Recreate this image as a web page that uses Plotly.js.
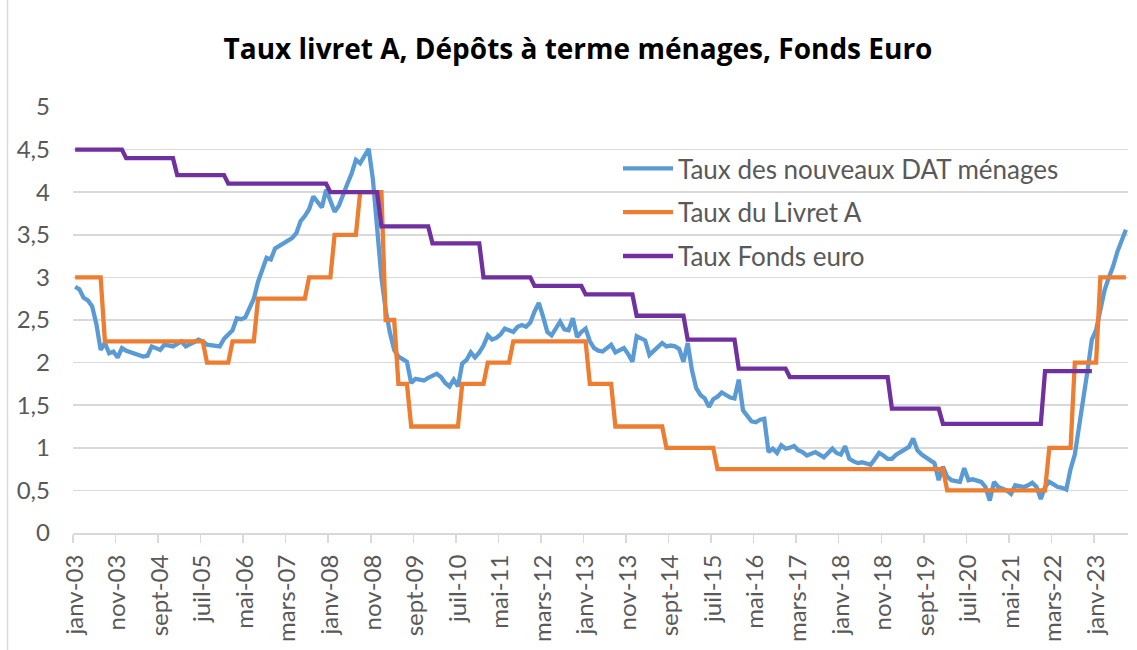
<!DOCTYPE html>
<html>
<head>
<meta charset="utf-8">
<script src="https://cdn.plot.ly/plotly-3.0.1.min.js"></script>
<style>
html,body{margin:0;padding:0;background:#fff;}
#chart{width:1137px;height:650px;}
</style>
</head>
<body>
<div id="chart"></div>
<script>
// Monthly series, janv-2003 .. août-2023 (248 months)
const tickLabels = ['janv-03','nov-03','sept-04','juil-05','mai-06','mars-07','janv-08','nov-08','sept-09','juil-10','mai-11','mars-12','janv-13','nov-13','sept-14','juil-15','mai-16','mars-17','janv-18','nov-18','sept-19','juil-20','mai-21','mars-22','janv-23'];

const tauxDAT = [
  2.89,2.86,2.76,2.73,2.66,2.45,2.15,2.23,2.11,2.13,2.06,2.17,
  2.14,2.12,2.10,2.08,2.07,2.08,2.19,2.17,2.15,2.21,2.20,2.19,
  2.22,2.25,2.19,2.21,2.24,2.27,2.25,2.21,2.20,2.19,2.19,2.28,
  2.33,2.38,2.52,2.51,2.53,2.64,2.75,2.95,3.10,3.23,3.21,3.34,
  3.37,3.40,3.43,3.46,3.52,3.66,3.72,3.80,3.95,3.88,3.82,4.03,
  3.88,3.77,3.84,3.98,4.10,4.22,4.38,4.34,4.43,4.51,4.15,3.60,
  3.00,2.62,2.35,2.15,2.07,2.04,2.01,1.76,1.81,1.80,1.79,1.82,
  1.85,1.87,1.83,1.76,1.72,1.80,1.72,1.99,2.03,2.12,2.06,2.12,
  2.20,2.32,2.27,2.29,2.33,2.40,2.38,2.36,2.42,2.44,2.42,2.47,
  2.60,2.70,2.54,2.36,2.32,2.40,2.48,2.39,2.38,2.52,2.30,2.36,
  2.40,2.25,2.17,2.14,2.13,2.17,2.21,2.12,2.15,2.17,2.10,2.01,
  2.31,2.28,2.26,2.09,2.14,2.18,2.23,2.19,2.20,2.19,2.16,2.01,
  2.23,1.91,1.70,1.62,1.58,1.48,1.57,1.60,1.65,1.62,1.59,1.58,
  1.80,1.44,1.38,1.31,1.30,1.33,1.34,0.95,0.99,0.94,1.03,0.99,
  1.00,1.02,0.97,0.95,0.91,0.93,0.95,0.92,0.89,0.94,0.99,0.94,
  0.92,1.02,0.87,0.84,0.82,0.83,0.81,0.80,0.87,0.94,0.91,0.87,
  0.87,0.92,0.95,0.98,1.01,1.11,0.97,0.92,0.89,0.85,0.82,0.62,
  0.78,0.66,0.62,0.61,0.60,0.76,0.62,0.63,0.62,0.60,0.54,0.38,
  0.60,0.54,0.52,0.50,0.46,0.56,0.55,0.54,0.56,0.59,0.54,0.40,
  0.54,0.60,0.57,0.54,0.53,0.51,0.75,0.92,1.25,1.56,1.91,2.27,
  2.38,2.62,2.85,3.00,3.13,3.30,3.45,3.56
];

const tauxLivretA = [
  3,3,3,3,3,3,3,2.25,2.25,2.25,2.25,2.25,
  2.25,2.25,2.25,2.25,2.25,2.25,2.25,2.25,2.25,2.25,2.25,2.25,
  2.25,2.25,2.25,2.25,2.25,2.25,2.25,2,2,2,2,2,
  2,2.25,2.25,2.25,2.25,2.25,2.25,2.75,2.75,2.75,2.75,2.75,
  2.75,2.75,2.75,2.75,2.75,2.75,2.75,3,3,3,3,3,
  3,3.5,3.5,3.5,3.5,3.5,3.5,4,4,4,4,4,
  4,2.5,2.5,2.5,1.75,1.75,1.75,1.25,1.25,1.25,1.25,1.25,
  1.25,1.25,1.25,1.25,1.25,1.25,1.25,1.75,1.75,1.75,1.75,1.75,
  1.75,2,2,2,2,2,2,2.25,2.25,2.25,2.25,2.25,
  2.25,2.25,2.25,2.25,2.25,2.25,2.25,2.25,2.25,2.25,2.25,2.25,
  2.25,1.75,1.75,1.75,1.75,1.75,1.75,1.25,1.25,1.25,1.25,1.25,
  1.25,1.25,1.25,1.25,1.25,1.25,1.25,1,1,1,1,1,
  1,1,1,1,1,1,1,0.75,0.75,0.75,0.75,0.75,
  0.75,0.75,0.75,0.75,0.75,0.75,0.75,0.75,0.75,0.75,0.75,0.75,
  0.75,0.75,0.75,0.75,0.75,0.75,0.75,0.75,0.75,0.75,0.75,0.75,
  0.75,0.75,0.75,0.75,0.75,0.75,0.75,0.75,0.75,0.75,0.75,0.75,
  0.75,0.75,0.75,0.75,0.75,0.75,0.75,0.75,0.75,0.75,0.75,0.75,
  0.75,0.5,0.5,0.5,0.5,0.5,0.5,0.5,0.5,0.5,0.5,0.5,
  0.5,0.5,0.5,0.5,0.5,0.5,0.5,0.5,0.5,0.5,0.5,0.5,
  0.5,1,1,1,1,1,1,2,2,2,2,2,
  2,3,3,3,3,3,3,3
];

const tauxFondsEuro = [
  4.5,4.5,4.5,4.5,4.5,4.5,4.5,4.5,4.5,4.5,4.5,4.5,
  4.4,4.4,4.4,4.4,4.4,4.4,4.4,4.4,4.4,4.4,4.4,4.4,
  4.2,4.2,4.2,4.2,4.2,4.2,4.2,4.2,4.2,4.2,4.2,4.2,
  4.1,4.1,4.1,4.1,4.1,4.1,4.1,4.1,4.1,4.1,4.1,4.1,
  4.1,4.1,4.1,4.1,4.1,4.1,4.1,4.1,4.1,4.1,4.1,4.1,
  4.0,4.0,4.0,4.0,4.0,4.0,4.0,4.0,4.0,4.0,4.0,4.0,
  3.6,3.6,3.6,3.6,3.6,3.6,3.6,3.6,3.6,3.6,3.6,3.6,
  3.4,3.4,3.4,3.4,3.4,3.4,3.4,3.4,3.4,3.4,3.4,3.4,
  3.0,3.0,3.0,3.0,3.0,3.0,3.0,3.0,3.0,3.0,3.0,3.0,
  2.9,2.9,2.9,2.9,2.9,2.9,2.9,2.9,2.9,2.9,2.9,2.9,
  2.8,2.8,2.8,2.8,2.8,2.8,2.8,2.8,2.8,2.8,2.8,2.8,
  2.55,2.55,2.55,2.55,2.55,2.55,2.55,2.55,2.55,2.55,2.55,2.55,
  2.27,2.27,2.27,2.27,2.27,2.27,2.27,2.27,2.27,2.27,2.27,2.27,
  1.93,1.93,1.93,1.93,1.93,1.93,1.93,1.93,1.93,1.93,1.93,1.93,
  1.83,1.83,1.83,1.83,1.83,1.83,1.83,1.83,1.83,1.83,1.83,1.83,
  1.83,1.83,1.83,1.83,1.83,1.83,1.83,1.83,1.83,1.83,1.83,1.83,
  1.46,1.46,1.46,1.46,1.46,1.46,1.46,1.46,1.46,1.46,1.46,1.46,
  1.28,1.28,1.28,1.28,1.28,1.28,1.28,1.28,1.28,1.28,1.28,1.28,
  1.28,1.28,1.28,1.28,1.28,1.28,1.28,1.28,1.28,1.28,1.28,1.28,
  1.9,1.9,1.9,1.9,1.9,1.9,1.9,1.9,1.9,1.9,1.9,1.9,
  null,null,null,null,null,null,null,null
];

const seriesNames = ['Taux des nouveaux DAT ménages','Taux du Livret A','Taux Fonds euro'];
const seriesColors = ['#5B9BD5','#ED7D31','#7030A0'];

// month index positions (category positions)
const monthIdx = tauxDAT.map((_, i) => i);
const tickPos = tickLabels.map((_, k) => k * 10 - 0.5);

const FONT = 'Lato, "Open Sans", sans-serif';
const TITLE_FONT = '"Open Sans", Lato, sans-serif';
const PL = 73, PR = 1128, PT = 107, PB = 533;
const PW = PR - PL, PH = PB - PT;

const traces = [tauxDAT, tauxLivretA, tauxFondsEuro].map((ys, k) => ({
  type: 'scatter',
  mode: 'lines',
  x: monthIdx,
  y: ys,
  name: seriesNames[k],
  legendgroup: 'g' + k,
  connectgaps: false,
  line: {color: seriesColors[k], width: 4.3, shape: 'linear'},
  hoverinfo: 'skip'
}));

const layout = {
  width: 1137,
  height: 650,
  paper_bgcolor: '#ffffff',
  plot_bgcolor: '#ffffff',
  separators: ', ',
  margin: {l: PL, r: 1137 - PR, t: PT, b: 650 - PB, pad: 0, autoexpand: false},
  title: {
    text: 'Taux livret A, Dépôts à terme ménages, Fonds Euro',
    font: {family: TITLE_FONT, size: 28, weight: 700, color: '#000000'},
    xref: 'container', x: 578 / 1137, xanchor: 'center',
    yref: 'container', y: 1 - 49 / 650, yanchor: 'middle'
  },
  xaxis: {
    range: [-0.5, 247.5],
    tickmode: 'array',
    tickvals: tickPos,
    ticktext: tickLabels,
    tickangle: -90,
    ticks: 'outside',
    ticklen: 8,
    tickwidth: 1.5,
    tickcolor: '#d9d9d9',
    ticklabelshift: 2,
    ticklabelstandoff: 2,
    showline: true,
    linecolor: '#d9d9d9',
    linewidth: 2,
    showgrid: false,
    zeroline: false,
    tickfont: {family: FONT, size: 24, color: '#595959'},
    automargin: false,
    fixedrange: true
  },
  yaxis: {
    range: [0, 5],
    tick0: 0,
    dtick: 0.5,
    showgrid: true,
    gridcolor: '#d9d9d9',
    gridwidth: 1.5,
    zeroline: false,
    showline: false,
    ticks: '',
    ticklabelstandoff: 22,
    tickfont: {family: FONT, size: 24, color: '#595959'},
    automargin: false,
    fixedrange: true
  },
  showlegend: true,
  legend: {
    xref: 'paper', yref: 'paper',
    x: (618 - PL) / PW, xanchor: 'left',
    y: (PB - 145) / PH, yanchor: 'top',
    bgcolor: 'rgba(255,255,255,0)',
    borderwidth: 0,
    itemwidth: 50,
    tracegroupgap: 7,
    traceorder: 'grouped',
    font: {family: FONT, size: 26, color: '#595959'}
  },
  shapes: [{
    type: 'line', xref: 'paper', yref: 'paper',
    x0: (7.5 - PL) / PW, x1: (7.5 - PL) / PW,
    y0: -(650 - PB) / PH, y1: 1 + PT / PH,
    line: {color: '#d9d9d9', width: 1.5}
  }]
};

Plotly.newPlot('chart', traces, layout, {staticPlot: true, displayModeBar: false});
</script>
</body>
</html>
